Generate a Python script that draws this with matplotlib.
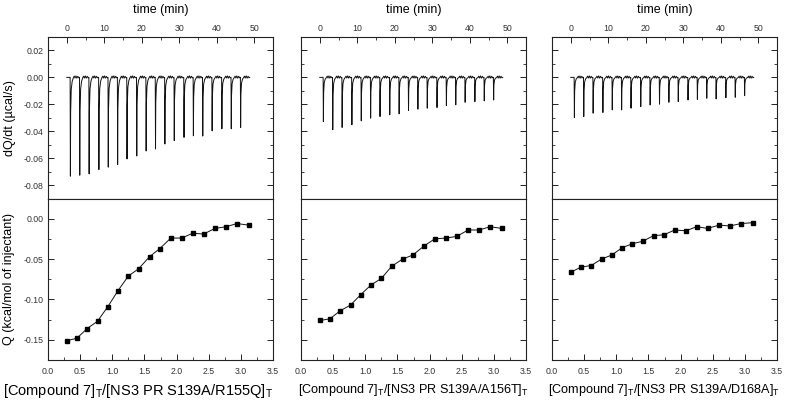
import matplotlib
matplotlib.use("Agg")
import matplotlib.pyplot as plt
from matplotlib.ticker import MultipleLocator, FormatStrFormatter
import numpy as np

plt.rcParams['font.family'] = ['Liberation Sans', 'DejaVu Sans']
plt.rcParams['mathtext.fontset'] = 'custom'
plt.rcParams['mathtext.rm'] = 'Liberation Sans'
plt.rcParams['mathtext.it'] = 'Liberation Sans:italic'

# ---- data ----
# injection times (min), same protocol for the three runs
inj_times = [0.9, 3.4, 5.9, 8.5, 11.0, 13.5, 16.0, 18.6, 21.1, 23.6,
             26.1, 28.6, 31.2, 33.7, 36.2, 38.7, 41.3, 43.8, 46.3]
trace_end = 48.8

# peak minima of the raw heat traces (ucal/s)
peaks_r155q = [-0.0734, -0.0727, -0.0717, -0.0685, -0.0667, -0.0648, -0.0606,
               -0.0584, -0.0547, -0.0532, -0.0495, -0.0470, -0.0446, -0.0434,
               -0.0436, -0.0397, -0.0382, -0.0382, -0.0372]
peaks_a156t = [-0.0328, -0.0389, -0.0372, -0.0352, -0.0323, -0.0303, -0.0291,
               -0.0278, -0.0271, -0.0246, -0.0236, -0.0229, -0.0224, -0.0209,
               -0.0204, -0.0185, -0.0180, -0.0175, -0.0168]
peaks_d168a = [-0.0298, -0.0291, -0.0266, -0.0261, -0.0242, -0.0242, -0.0229,
               -0.0217, -0.0205, -0.0199, -0.0185, -0.0180, -0.0168, -0.0163,
               -0.0155, -0.0160, -0.0151, -0.0148, -0.0136]

# molar ratio and integrated heats (kcal/mol of injectant)
molar_ratio = [0.30, 0.45, 0.61, 0.77, 0.93, 1.09, 1.25, 1.41, 1.58, 1.74,
               1.91, 2.08, 2.25, 2.42, 2.60, 2.77, 2.94, 3.12]
q_r155q = [-0.151, -0.148, -0.136, -0.127, -0.109, -0.089, -0.071, -0.062,
           -0.047, -0.037, -0.024, -0.024, -0.018, -0.019, -0.012, -0.010,
           -0.006, -0.008]
q_a156t = [-0.126, -0.124, -0.114, -0.107, -0.094, -0.082, -0.074, -0.059,
           -0.050, -0.045, -0.034, -0.025, -0.024, -0.022, -0.014, -0.014,
           -0.010, -0.012]
q_d168a = [-0.066, -0.060, -0.058, -0.050, -0.045, -0.036, -0.031, -0.028,
           -0.021, -0.020, -0.014, -0.015, -0.010, -0.012, -0.008, -0.009,
           -0.006, -0.005]

mutants = ['R155Q', 'A156T', 'D168A']
peak_sets = [peaks_r155q, peaks_a156t, peaks_d168a]
q_sets = [q_r155q, q_a156t, q_d168a]

# peak shape template (time offset in min, fraction of peak depth) and small
# baseline ripple drawn between injections (absolute ucal/s)
shape_dt = [0.0, 0.07, 0.14, 0.3, 0.55, 0.9]
shape_frac = [0.0, 1.0, 0.35, 0.12, 0.04, 0.0]
ripple_dt = [1.1, 1.3, 1.55, 1.8, 2.05, 2.3]
ripple_val = [0.0009, -0.0005, 0.0011, -0.0006, 0.0008, -0.0003]


def build_trace(times, depths):
    t = [0.0]
    y = [0.0]
    for ti, d in zip(times, depths):
        for dt, f in zip(shape_dt, shape_frac):
            t.append(ti + dt)
            y.append(d * f)
        for dt, v in zip(ripple_dt, ripple_val):
            if ti + dt < trace_end:
                t.append(ti + dt)
                y.append(v)
    t.append(trace_end)
    y.append(0.0)
    return np.array(t), np.array(y)


fig = plt.figure(figsize=(7.88, 4.0), dpi=100)

lefts = [48 / 788, 301 / 788, 552 / 788]
width = 225 / 788
xlabel_fs = [10.5, 9.1, 9.1]
xlabel_x = [0.402, 0.5, 0.5]
tick_fs = 6.3
label_fs = 9.0
spine_c = '#222222'

for i, left in enumerate(lefts):
    ax_top = fig.add_axes([left, 0.50375, width, 0.40375])
    ax_bot = fig.add_axes([left, 0.10, width, 0.40375])

    # raw thermogram
    t, y = build_trace(inj_times, peak_sets[i])
    ax_top.plot(t, y, color='#111111', lw=0.7)
    ax_top.set_xlim(-5, 55)
    ax_top.set_ylim(-0.09, 0.03)
    ax_top.xaxis.set_major_locator(MultipleLocator(10))
    ax_top.xaxis.set_minor_locator(MultipleLocator(5))
    ax_top.yaxis.set_major_locator(MultipleLocator(0.02))
    ax_top.yaxis.set_minor_locator(MultipleLocator(0.01))
    ax_top.yaxis.set_major_formatter(FormatStrFormatter('%.2f'))
    ax_top.tick_params(axis='x', which='both', direction='in', top=True, bottom=False,
                       labeltop=True, labelbottom=False)
    ax_top.tick_params(axis='y', which='both', direction='in', left=True, right=True)
    ax_top.xaxis.set_label_position('top')
    ax_top.set_xlabel('time (min)', fontsize=label_fs, labelpad=7.5)

    # integrated heats
    ax_bot.plot(molar_ratio, q_sets[i], color='#111111', lw=0.7,
                marker='s', ms=3.5, mfc='black', mec='black')
    ax_bot.set_xlim(0, 3.5)
    ax_bot.set_ylim(-0.175, 0.025)
    ax_bot.xaxis.set_major_locator(MultipleLocator(0.5))
    ax_bot.xaxis.set_minor_locator(MultipleLocator(0.25))
    ax_bot.yaxis.set_major_locator(MultipleLocator(0.05))
    ax_bot.yaxis.set_minor_locator(MultipleLocator(0.025))
    ax_bot.xaxis.set_major_formatter(FormatStrFormatter('%.1f'))
    ax_bot.yaxis.set_major_formatter(FormatStrFormatter('%.2f'))
    ax_bot.tick_params(axis='x', which='both', direction='in', top=False, bottom=True)
    ax_bot.tick_params(axis='y', which='both', direction='in', left=True, right=True)
    ax_bot.set_xlabel(r'[Compound 7]$_\mathrm{T}$/[NS3 PR S139A/' + mutants[i] + r']$_\mathrm{T}$',
                      fontsize=xlabel_fs[i], labelpad=4)
    ax_bot.xaxis.label.set_x(xlabel_x[i])

    for ax in (ax_top, ax_bot):
        ax.tick_params(which='major', length=4, width=0.7, labelsize=tick_fs,
                       pad=3, colors=spine_c, labelcolor='#333333')
        ax.tick_params(which='minor', length=2.5, width=0.6, colors=spine_c)
        for sp in ax.spines.values():
            sp.set_linewidth(0.8)
            sp.set_color(spine_c)
    ax_bot.tick_params(axis='x', which='major', pad=5)

    if i == 0:
        ax_top.set_ylabel('dQ/dt (µcal/s)', fontsize=label_fs, labelpad=6)
        ax_bot.set_ylabel('Q (kcal/mol of injectant)', fontsize=label_fs, labelpad=6)
    else:
        ax_top.tick_params(axis='y', labelleft=False)
        ax_bot.tick_params(axis='y', labelleft=False)

fig.savefig('out.png', dpi=100)
